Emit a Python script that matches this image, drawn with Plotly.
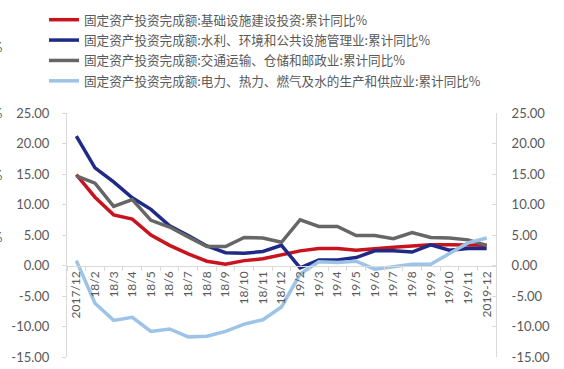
import plotly.graph_objects as go

# Monthly categories (Jan is merged into Feb in the cumulative statistics)
categories = ["2017/12", "18/2", "18/3", "18/4", "18/5", "18/6", "18/7", "18/8",
              "18/9", "18/10", "18/11", "18/12", "19/2", "19/3", "19/4", "19/5",
              "19/6", "19/7", "19/8", "19/9", "19/10", "19/11", "2019-12"]

infra = [14.9, 11.2, 8.3, 7.6, 5.0, 3.3, 1.9, 0.7, 0.2, 0.8, 1.1, 1.7,
         2.4, 2.8, 2.8, 2.5, 2.8, 3.0, 3.2, 3.4, 3.4, 3.4, 3.3]
water_env = [21.2, 16.0, 13.7, 11.1, 9.2, 6.5, 4.9, 3.2, 2.1, 2.0, 2.3, 3.3,
             -0.4, 0.9, 0.9, 1.3, 2.4, 2.4, 2.2, 3.4, 2.5, 2.8, 2.8]
transport = [14.7, 13.5, 9.7, 10.8, 7.4, 6.3, 4.7, 3.1, 3.1, 4.6, 4.5, 3.8,
             7.5, 6.4, 6.4, 4.9, 4.9, 4.4, 5.4, 4.6, 4.5, 4.2, 3.3]
utilities = [0.8, -6.2, -9.0, -8.5, -10.8, -10.4, -11.7, -11.6, -10.8, -9.6, -8.9, -6.8,
             -1.4, 0.6, 0.5, 0.7, -0.6, -0.2, 0.2, 0.2, 2.0, 3.7, 4.5]

names = [
    "固定资产投资完成额:基础设施建设投资:累计同比%",
    "固定资产投资完成额:水利、环境和公共设施管理业:累计同比%",
    "固定资产投资完成额:交通运输、仓储和邮政业:累计同比%",
    "固定资产投资完成额:电力、热力、燃气及水的生产和供应业:累计同比%",
]
colors = ["#C8141E", "#1F2A86", "#666666", "#9DC3E6"]
series = [infra, water_env, transport, utilities]
axes = ["y", "y", "y", "y2"]

tick_vals = [25, 20, 15, 10, 5, 0, -5, -10, -15]
tick_text = ["%.2f" % v for v in tick_vals]

W, H = 564, 369
ML, MR, MT, MB = 67, 68, 113, 12
plot_w = W - ML - MR
plot_h = H - MT - MB
y_min, y_max = -15, 25

fig = go.Figure()
for i, (name, vals, col, ax) in enumerate(zip(names, series, colors, axes)):
    fig.add_trace(go.Scatter(
        x=categories, y=vals, name=name, mode="lines", yaxis=ax,
        legendgroup="g%d" % i,
        line=dict(color=col, width=3.5),
    ))

label_font = dict(family="Lato, Carlito, sans-serif", size=13, color="#595959")
axis_grey = "#D9D9D9"
zero_pos = (0 - y_min) / (y_max - y_min)

fig.update_layout(
    width=W, height=H,
    margin=dict(l=ML, r=MR, t=MT, b=MB, pad=0, autoexpand=False),
    paper_bgcolor="white", plot_bgcolor="white",
    showlegend=True,
    legend=dict(
        x=(44 - ML) / plot_w, y=1 + (MT - 5) / plot_h,
        xanchor="left", yanchor="top",
        font=dict(family="Noto Sans CJK SC", size=12.6, color="#595959"),
        bgcolor="rgba(0,0,0,0)", tracegroupgap=1,
        itemwidth=30, traceorder="grouped",
    ),
    xaxis=dict(
        type="category", range=[-0.5, len(categories) - 0.5],
        anchor="free", position=zero_pos,
        showline=True, linecolor=axis_grey, linewidth=1,
        ticks="outside", ticklen=4, tickcolor=axis_grey, tickson="boundaries",
        tickangle=-90, showgrid=False, zeroline=False,
        tickfont=dict(family="Lato, Carlito, sans-serif", size=12, color="#595959"),
    ),
    yaxis=dict(
        range=[y_min, y_max], tickvals=tick_vals, ticktext=tick_text,
        showline=True, linecolor=axis_grey, linewidth=1,
        ticks="outside", ticklen=4, tickcolor=axis_grey,
        showgrid=False, zeroline=False, ticklabelstandoff=10,
        tickfont=label_font,
    ),
    yaxis2=dict(
        range=[y_min, y_max], tickvals=tick_vals, ticktext=tick_text,
        overlaying="y", side="right", anchor="x",
        showline=True, linecolor=axis_grey, linewidth=1,
        ticks="inside", ticklen=4, tickcolor=axis_grey,
        showgrid=False, zeroline=False, ticklabelstandoff=12,
        tickfont=label_font,
    ),
)

# Unit marks left over at the left margin
for py in [47, 113, 175, 237]:
    fig.add_annotation(
        x=(4 - ML) / plot_w, y=1 - (py - MT) / plot_h,
        xref="paper", yref="paper", xanchor="right", yanchor="middle",
        text="%", showarrow=False, font=label_font,
    )

fig.write_html("out.html")
